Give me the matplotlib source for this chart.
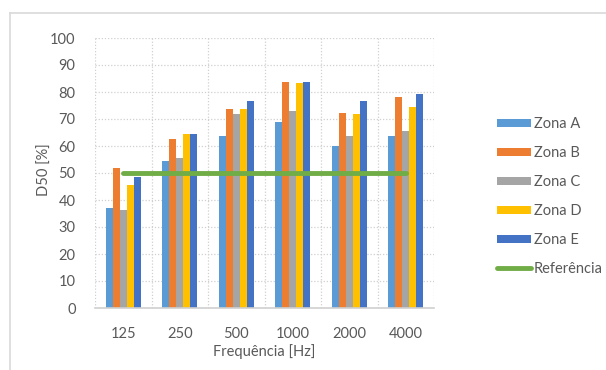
import numpy as np
import matplotlib
matplotlib.use("Agg")
from matplotlib import pyplot as plt
from matplotlib.lines import Line2D
from matplotlib.patches import Patch

plt.rcParams['font.family'] = ['Lato', 'DejaVu Sans']

# data
frequencies = ["125", "250", "500", "1000", "2000", "4000"]
zona_a = [37.0, 54.6, 63.8, 69.0, 60.0, 63.8]
zona_b = [51.7, 62.7, 73.8, 83.6, 72.3, 78.0]
zona_c = [36.3, 55.4, 71.7, 72.9, 63.6, 65.4]
zona_d = [45.4, 64.4, 73.8, 83.4, 71.7, 74.6]
zona_e = [48.7, 64.4, 76.5, 83.6, 76.8, 79.2]
referencia = [50, 50, 50, 50, 50, 50]

series = [("Zona A", zona_a, "#5B9BD5"),
          ("Zona B", zona_b, "#ED7D31"),
          ("Zona C", zona_c, "#A5A5A5"),
          ("Zona D", zona_d, "#FFC000"),
          ("Zona E", zona_e, "#4472C4")]

W, H = 606, 370
fig = plt.figure(figsize=(W / 100, H / 100), dpi=100)

# outer chart frame (only top and left edges visible)
fig.add_artist(Line2D([10 / W, 10 / W], [0, 1 - 13 / H], color="#d9d9d9", lw=1.2))
fig.add_artist(Line2D([10 / W, 1], [1 - 13 / H, 1 - 13 / H], color="#d9d9d9", lw=1.2))

ax = fig.add_axes([95 / W, 1 - 308 / H, (434 - 95) / W, (308 - 38) / H])

x = np.arange(len(frequencies))
bw = 0.124
for i, (name, vals, col) in enumerate(series):
    ax.bar(x + (i - 2) * bw, vals, width=bw, color=col, label=name, zorder=3)

ax.plot(x, referencia, color="#70AD47", lw=3.5, solid_capstyle="round", label="Referência", zorder=4)

ax.set_xlim(-0.5, len(frequencies) - 0.5)
ax.set_ylim(0, 100)
ax.set_yticks(range(0, 101, 10))
ax.set_xticks(x)
ax.set_xticklabels(frequencies)
ax.set_xticks(np.arange(-0.5, len(frequencies), 1), minor=True)
ax.grid(True, which="major", axis="y", color="#d0d0d0", ls=(0, (1, 1.5)), lw=0.9, zorder=0)
ax.grid(True, which="minor", axis="x", color="#d0d0d0", ls=(0, (1, 1.5)), lw=0.9, zorder=0)
ax.tick_params(which="both", length=0, colors="#595959", labelsize=10.5)
ax.tick_params(axis="y", pad=14)
ax.tick_params(axis="x", pad=14)
for s in ["top", "right", "left"]:
    ax.spines[s].set_visible(False)
ax.spines["bottom"].set_color("#d0d0d0")
ax.spines["bottom"].set_linewidth(1.2)
ax.spines["bottom"].set_zorder(5)

fig.text(45 / W, 1 - 170 / H, "D50 [%]", rotation=90, ha="center", va="center", color="#595959", fontsize=10.5)
fig.text(264 / W, 1 - 352 / H, "Frequência [Hz]", ha="center", va="center", color="#595959", fontsize=10.5)

handles = [Patch(facecolor=c, edgecolor="none") for _, _, c in series]
handles.append(Line2D([], [], color="#70AD47", lw=3.5, solid_capstyle="round"))
labels = [n for n, _, _ in series] + ["Referência"]
leg = fig.legend(handles, labels, loc="upper left", bbox_to_anchor=(490 / W, 1 - 110 / H),
                 frameon=False, fontsize=10.5, handlelength=2.3, handleheight=0.45,
                 handletextpad=0.2, labelspacing=1.02, labelcolor="#595959", borderpad=0)

fig.savefig("out.png", dpi=100)
